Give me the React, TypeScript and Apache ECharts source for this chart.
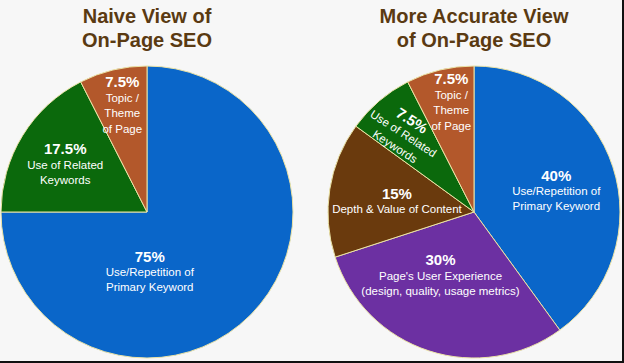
import React, { useEffect, useRef } from 'react';
import * as echarts from 'echarts';

const leftTitle = 'Naive View of\nOn-Page SEO';
const rightTitle = 'More Accurate View\nof On-Page SEO';

const leftCategories = ['Use/Repetition of\nPrimary Keyword', 'Use of Related\nKeywords', 'Topic /\nTheme\nof Page'];
const leftValues = [75, 17.5, 7.5];

const rightCategories = [
  'Use/Repetition of\nPrimary Keyword',
  "Page's User Experience\n(design, quality, usage metrics)",
  'Depth & Value of Content',
  'Use of Related\nKeywords',
  'Topic /\nTheme\nof Page',
];
const rightValues = [40, 30, 15, 7.5, 7.5];

const leftColors = ['#0a66c9', '#0b690c', '#b3582b'];
const rightColors = ['#0a66c9', '#6c30a2', '#6a3a0d', '#0b690c', '#b3582b'];

// label nudges (px) from the default inside position
const leftOffsets = [[-51, 6], [-17, -8], [-7, -33]];
const rightOffsets = [[10, 2], [-10, -9], [-2, 1], [-29, -6], [-5, -36]];
const rightRotations = [0, 0, 0, -33, 0];

const FONT = '"Liberation Sans", Arial, Helvetica, sans-serif';

const fmt = (p: any) =>
  `{p|${p.value}%}\n` + String(p.name).split('\n').map((l: string) => `{t|${l}}`).join('\n');

const richStyle = {
  p: { fontSize: 15, fontWeight: 'bold', color: '#ffffff', lineHeight: 16, fontFamily: FONT },
  t: { fontSize: 11.5, color: '#ffffff', lineHeight: 15.5, fontFamily: FONT },
};

export default function App() {
  const ref = useRef<HTMLDivElement>(null);
  useEffect(() => {
    document.body.style.margin = '0';
    const chart = echarts.init(ref.current!, null, { renderer: 'svg' });
    const makeSeries = (
      cats: string[],
      vals: number[],
      colors: string[],
      center: number[],
      offs: number[][],
      rots: number[] | null
    ) => ({
      type: 'pie',
      center,
      radius: 146,
      startAngle: 90,
      clockwise: true,
      avoidLabelOverlap: false,
      minShowLabelAngle: 0,
      itemStyle: { borderColor: '#ebe3a6', borderWidth: 1 },
      label: { show: true, position: 'inside', formatter: fmt, rich: richStyle, align: 'center' },
      labelLine: { show: false },
      labelLayout: (params: any) => {
        const off = offs[params.dataIndex];
        return { dx: off[0], dy: off[1], hideOverlap: false };
      },
      emphasis: { disabled: true },
      data: vals.map((v, i) => ({
        value: v,
        name: cats[i],
        itemStyle: { color: colors[i] },
        label: rots && rots[i] ? { rotate: rots[i] } : {},
      })),
    });
    chart.setOption({
      animation: false,
      backgroundColor: '#f7f7f7',
      graphic: [
        {
          type: 'text',
          x: 147,
          y: 4,
          style: {
            text: leftTitle,
            textAlign: 'center',
            textVerticalAlign: 'top',
            font: `bold 20px ${FONT}`,
            lineHeight: 24,
            fill: '#5a3a12',
          },
        },
        {
          type: 'text',
          x: 474,
          y: 4,
          style: {
            text: rightTitle,
            textAlign: 'center',
            textVerticalAlign: 'top',
            font: `bold 20px ${FONT}`,
            lineHeight: 24,
            fill: '#5a3a12',
          },
        },
      ],
      series: [
        makeSeries(leftCategories, leftValues, leftColors, [147, 212], leftOffsets, null),
        makeSeries(rightCategories, rightValues, rightColors, [474, 212], rightOffsets, rightRotations),
      ],
    });
    return () => chart.dispose();
  }, []);
  return (
    <div style={{ width: 624, height: 363, boxSizing: 'border-box', borderRight: '2px solid #111', borderBottom: '2px solid #111', background: '#f7f7f7' }}>
      <div ref={ref} style={{ width: 622, height: 361 }} />
    </div>
  );
}
